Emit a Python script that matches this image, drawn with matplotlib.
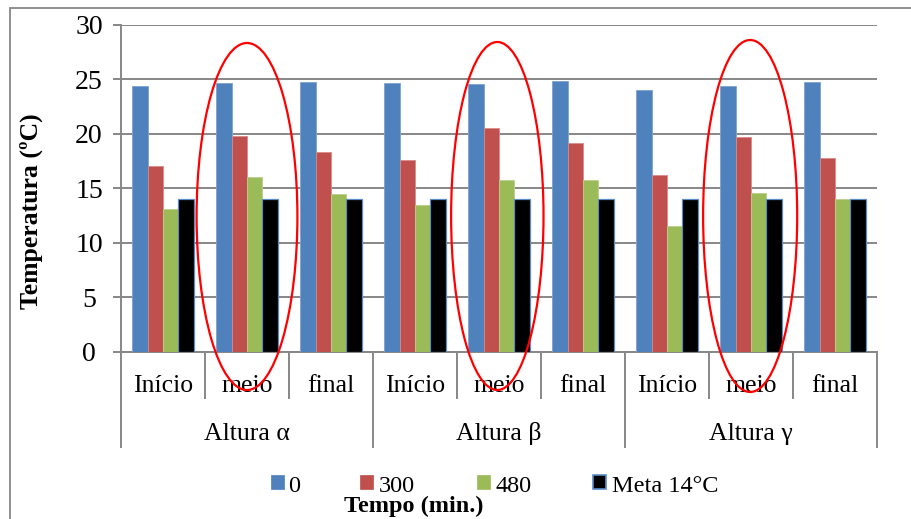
import matplotlib
matplotlib.use("Agg")
import matplotlib.pyplot as plt
from matplotlib.patches import Ellipse, Rectangle
from matplotlib.lines import Line2D
import numpy as np

plt.rcParams['font.family'] = ['Liberation Serif', 'DejaVu Serif']

# ---- data -------------------------------------------------------------
positions = ["Início", "meio", "final"]
heights = ["Altura α", "Altura β", "Altura γ"]
series_names = ["0", "300", "480", "Meta 14°C"]
t0 = [24.4, 24.7, 24.8, 24.65, 24.55, 24.9, 24.05, 24.4, 24.75]
t300 = [17.0, 19.8, 18.3, 17.6, 20.5, 19.2, 16.2, 19.7, 17.8]
t480 = [13.1, 16.05, 14.45, 13.5, 15.8, 15.75, 11.5, 14.6, 14.0]
meta = [14.0] * 9
yticks = [0, 5, 10, 15, 20, 25, 30]

series = [t0, t300, t480, meta]
face_colors = ["#4F81BD", "#C0504D", "#9BBB59", "#000000"]
edge_colors = ["#7EA2D0", "#D88B89", "#B9D08B", "#5B8CC8"]

W, H = 911, 519
fig = plt.figure(figsize=(W / 100, H / 100), dpi=100)

def fx(px):
    return px / W

def fy(py):
    return 1 - py / H

ax_left, ax_right, ax_top, ax_bot = 121, 877, 25, 351.5
ax = fig.add_axes([fx(ax_left), fy(ax_bot), fx(ax_right - ax_left), (ax_bot - ax_top) / H])

grid_col = "#878787"
n = len(t0)
x = np.arange(n)
bw = 0.182
for k, (vals, fc, ec) in enumerate(zip(series, face_colors, edge_colors)):
    ax.bar(x + (k - 1.5) * bw, vals, width=bw, color=fc, edgecolor=ec,
           linewidth=0.9 if k == 3 else 0.6, zorder=3)

ax.set_xlim(-0.5, n - 0.5)
ax.set_ylim(0, 30)
ax.set_yticks(yticks)
ax.yaxis.grid(True, color=grid_col, linewidth=1.4, zorder=0)
ax.set_axisbelow(True)
for s in ["top", "right"]:
    ax.spines[s].set_visible(False)
for s in ["left", "bottom"]:
    ax.spines[s].set_color(grid_col)
    ax.spines[s].set_linewidth(1.4)
ax.tick_params(axis="y", direction="out", length=6, width=1.4, color=grid_col,
               labelsize=20, pad=17)
for lbl in ax.get_yticklabels():
    lbl.set_horizontalalignment("center")
ax.set_xticks([])

# two-level category axis
xt = ax.get_xaxis_transform()

def ay(py):
    return (ax_bot - py) / (ax_bot - ax_top)

for b in range(n + 1):
    bottom = 447 if b % 3 == 0 else 398
    ax.add_line(Line2D([b - 0.5, b - 0.5], [0, ay(bottom)], transform=xt,
                       color=grid_col, linewidth=1.4, clip_on=False))
for i in range(n):
    ax.text(i, ay(391.5), positions[i % 3], transform=xt, ha="center",
            va="baseline", fontsize=18.5)
for g, name in enumerate(heights):
    ax.text(3 * g + 1, ay(440), name, transform=xt, ha="center",
            va="baseline", fontsize=18.5)

# highlight rings around the middle sections
px_per_unit = (ax_bot - ax_top) / 30
rings = [(1.0, 1.20, 43, 390), (3.98, 1.10, 42, 390), (6.99, 1.12, 40, 392)]
for cx, w, top, bot in rings:
    cy = (ax_bot - (top + bot) / 2) / px_per_unit
    h = (bot - top) / px_per_unit
    ax.add_patch(Ellipse((cx, cy), w, h, fill=False, edgecolor="#FF0000",
                         linewidth=1.6, clip_on=False, zorder=5))

# axis titles
fig.text(fx(31), fy(211), "Temperatura (ºC)", rotation=90, ha="center",
         va="center", fontsize=18.5, fontweight="bold")
fig.text(fx(414), fy(512), "Tempo (min.)", ha="center", va="baseline",
         fontsize=17.5, fontweight="bold")

# legend row
sq_x = [270.5, 360, 476.5, 593]
txt_x = [288, 379, 495, 612]
for name, fc, ec, sx, tx in zip(series_names, face_colors, edge_colors, sq_x, txt_x):
    fig.add_artist(Rectangle((fx(sx), fy(489)), fx(13), 14 / H, transform=fig.transFigure,
                             facecolor=fc, edgecolor=ec if fc == "#000000" else fc,
                             linewidth=1.2 if fc == "#000000" else 0.5))
    fig.text(fx(tx), fy(492), name, ha="left", va="baseline", fontsize=17.5)

# outer frame
fig.add_artist(Rectangle((fx(10), -0.2), 1.5, fy(8) + 0.2, transform=fig.transFigure,
                         fill=False, edgecolor=grid_col, linewidth=1.3))

fig.savefig("out.png", dpi=100)
